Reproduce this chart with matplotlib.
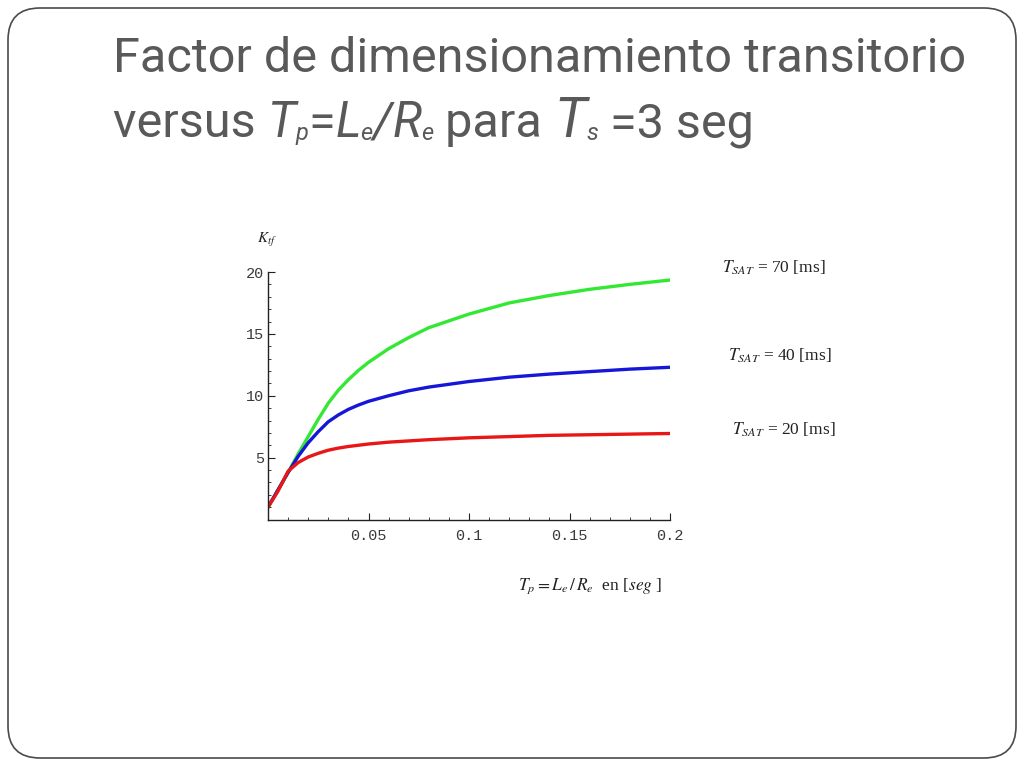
import matplotlib
matplotlib.use('Agg')
import matplotlib.pyplot as plt
from matplotlib.patches import FancyBboxPatch

# values
tp = [0, 0.005, 0.01, 0.015, 0.02, 0.025, 0.03, 0.035, 0.04, 0.045, 0.05, 0.06,
      0.07, 0.08, 0.1, 0.12, 0.14, 0.16, 0.18, 0.2]
k_70 = [1.0, 2.4, 3.8, 5.3, 6.7, 8.1, 9.4, 10.45, 11.3, 12.05, 12.7, 13.8,
        14.7, 15.5, 16.6, 17.5, 18.1, 18.6, 19.0, 19.35]
k_40 = [1.0, 2.4, 3.8, 5.1, 6.2, 7.1, 7.9, 8.45, 8.9, 9.25, 9.55, 10.0,
        10.4, 10.7, 11.15, 11.5, 11.75, 11.95, 12.15, 12.3]
k_20 = [1.0, 2.3, 3.9, 4.6, 5.05, 5.35, 5.6, 5.77, 5.9, 6.0, 6.1, 6.25,
        6.35, 6.45, 6.6, 6.7, 6.8, 6.85, 6.9, 6.95]
x_ticks = [0.05, 0.1, 0.15, 0.2]
x_labels = ['0.05', '0.1', '0.15', '0.2']
y_ticks = [5, 10, 15, 20]
labels = [r'$T_{SAT}$ = 70 [ms]', r'$T_{SAT}$ = 40 [ms]', r'$T_{SAT}$ = 20 [ms]']

plt.rcParams['mathtext.fontset'] = 'stix'

fig = plt.figure(figsize=(10.24, 7.68), dpi=100)
renderer = fig.canvas.get_renderer()

# slide frame in pixel coordinates
bg = fig.add_axes([0, 0, 1, 1])
bg.set_xlim(0, 1024)
bg.set_ylim(768, 0)
bg.axis('off')
frame = FancyBboxPatch((8, 8), 1008, 750, boxstyle='round,pad=0,rounding_size=32',
                       fill=False, edgecolor='#4a4a4a', linewidth=1.2)
bg.add_patch(frame)

title_font = 'Roboto'
title_color = '#595959'
bg.text(113, 72, 'Factor de dimensionamiento transitorio', fontsize=35,
        color=title_color, family=title_font, va='baseline')


def place(pieces, x, y):
    # write pieces of one line after each other
    for s, size, style, dy in pieces:
        t = bg.text(x, y + dy, s, fontsize=size, style=style, color=title_color,
                    family=title_font, va='baseline')
        x += t.get_window_extent(renderer).width


line2 = [('versus ', 35, 'normal', 0), ('T', 35, 'italic', 0), ('p', 17, 'italic', 3),
         ('=', 35, 'normal', 0), ('L', 35, 'italic', 0), ('e', 17, 'italic', 3),
         ('/', 35, 'italic', 0), ('R', 35, 'italic', 0), ('e', 17, 'italic', 3),
         (' para ', 35, 'normal', 0), ('T', 40, 'italic', 0), ('s', 17, 'italic', 3),
         (' =3 seg', 35, 'normal', 0)]
place(line2, 113, 137)

ax = fig.add_axes([268 / 1024, 1 - 519.5 / 768, 402 / 1024, 247.5 / 768])
ax.plot(tp, k_70, color='#33e833', linewidth=2.4)
ax.plot(tp, k_40, color='#1616d8', linewidth=2.4)
ax.plot(tp, k_20, color='#e81616', linewidth=2.4)
ax.set_xlim(0, 0.2)
ax.set_ylim(0, 20)
for s in ['top', 'right']:
    ax.spines[s].set_visible(False)
for s in ['left', 'bottom']:
    ax.spines[s].set_color('#222222')
    ax.spines[s].set_linewidth(1.0)
ax.set_xticks(x_ticks)
ax.set_xticklabels(x_labels)
ax.set_yticks(y_ticks)
ax.set_xticks([i / 100 for i in range(1, 21)], minor=True)
ax.set_yticks(range(1, 21), minor=True)
ax.tick_params(which='major', direction='in', length=5, width=0.8, color='#222222',
               labelsize=11, labelcolor='#3a3a3a')
ax.tick_params(axis='x', pad=7)
ax.tick_params(axis='y', pad=3)
ax.tick_params(which='minor', direction='in', length=2.5, width=0.6, color='#222222')
for t in ax.get_xticklabels() + ax.get_yticklabels():
    t.set_family('Liberation Mono')

bg.text(257, 240, r'$K_{tf}$', fontsize=11, color='#222222', va='center')
bg.text(518, 586, r'$T_p = L_e\,/\,R_e$  en [$seg$ ]', fontsize=12.5,
        color='#222222', va='center', family='Liberation Serif')
label_pos = [(722, 268), (728, 356), (732, 430)]
for (lx, ly), lab in zip(label_pos, labels):
    bg.text(lx, ly, lab, fontsize=12.5, color='#222222', va='center',
            family='Liberation Serif')

fig.savefig('out.png', dpi=100)
